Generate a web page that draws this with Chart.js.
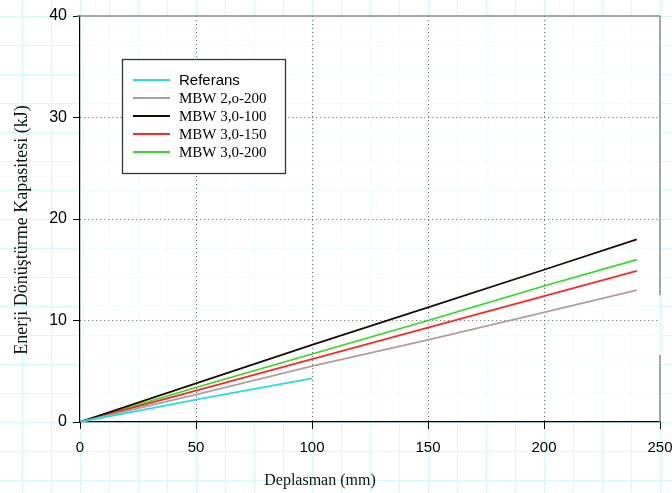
<!DOCTYPE html>
<html><head><meta charset="utf-8">
<script src="https://cdn.jsdelivr.net/npm/chart.js@4.4.0/dist/chart.umd.min.js"></script>
<style>
html,body{margin:0;padding:0;background:#fff;}
body{width:672px;height:493px;overflow:hidden;
background-image:linear-gradient(to right,#d2fafa 1px,transparent 1px),linear-gradient(to bottom,#d2fafa 1px,transparent 1px);
background-size:29px 29px;background-position:22px 16px;}
canvas{display:block}
</style></head>
<body><canvas id="c" width="672" height="493"></canvas>
<script>
// ---- data ----
const labels = ["Referans", "MBW 2,o-200", "MBW 3,0-100", "MBW 3,0-150", "MBW 3,0-200"];
const dispRef = [0, 50, 100];
const referans = [0, 2.2, 4.3];
const disp = [0, 50, 100, 150, 200, 240];
const mbw20_200 = [0, 2.7, 5.5, 8.1, 10.8, 13.0];
const mbw30_100 = [0, 3.8, 7.6, 11.3, 15.0, 18.0];
const mbw30_150 = [0, 3.1, 6.2, 9.3, 12.4, 14.9];
const mbw30_200 = [0, 3.4, 6.7, 10.0, 13.4, 16.0];
const xTicks = [0, 50, 100, 150, 200, 250];
const yTicks = [0, 10, 20, 30, 40];
const xTitle = "Deplasman (mm)";
const yTitle = "Enerji Dönüştürme Kapasitesi (kJ)";

const colors = ["#22dded", "#b39c9c", "#1a0a0a", "#ff2626", "#2fdc1f"];
const pts = (xs, ys) => xs.map((x, i) => ({x: x, y: ys[i]}));
const series = [pts(dispRef, referans), pts(disp, mbw20_200), pts(disp, mbw30_100), pts(disp, mbw30_150), pts(disp, mbw30_200)];

const SANS = '"Liberation Sans", Arial, sans-serif';
const SERIF = '"Liberation Serif", "Times New Roman", serif';

const decor = {
  id: 'decor',
  beforeDraw(chart) {
    const a = chart.chartArea, ctx = chart.ctx;
    ctx.save();
    ctx.fillStyle = 'rgba(255,255,255,0.65)';
    ctx.fillRect(a.left, a.top, a.right - a.left, a.bottom - a.top);
    ctx.restore();
  },
  afterDraw(chart) {
    const a = chart.chartArea, ctx = chart.ctx, ys = chart.scales.y;
    ctx.save();
    // top and right frame
    ctx.strokeStyle = '#8a8a8a';
    ctx.lineWidth = 1.5;
    ctx.beginPath();
    ctx.moveTo(a.left - 3, a.top); ctx.lineTo(a.right, a.top);
    ctx.moveTo(a.right, a.top); ctx.lineTo(a.right, ys.getPixelForValue(12.5));
    ctx.moveTo(a.right, ys.getPixelForValue(6.6)); ctx.lineTo(a.right, a.bottom);
    ctx.stroke();
    // legend
    const L = a.left + 42, T = a.top + 43, W = 163, H = 114;
    ctx.fillStyle = '#fff';
    ctx.fillRect(L, T, W, H);
    ctx.strokeStyle = '#333';
    ctx.lineWidth = 1.3;
    ctx.strokeRect(L + 0.5, T + 0.5, W, H);
    ctx.textBaseline = 'middle';
    ctx.textAlign = 'left';
    chart.data.datasets.forEach((ds, i) => {
      const y = T + 21 + i * 18;
      ctx.strokeStyle = ds.borderColor;
      ctx.lineWidth = 2;
      ctx.beginPath(); ctx.moveTo(L + 11, y); ctx.lineTo(L + 48, y); ctx.stroke();
      ctx.fillStyle = '#000';
      ctx.font = i === 0 ? '15px ' + SANS : '15px ' + SERIF;
      ctx.fillText(ds.label, L + 57, y + 1);
    });
    // axis titles
    ctx.fillStyle = '#111';
    ctx.textAlign = 'center';
    ctx.font = '16px ' + SERIF;
    ctx.fillText(xTitle, a.left + 240, a.bottom + 59);
    ctx.font = '18px ' + SERIF;
    ctx.translate(22, a.top + 214);
    ctx.rotate(-Math.PI / 2);
    ctx.fillText(yTitle, 0, 0);
    ctx.restore();
  }
};

new Chart(document.getElementById('c'), {
  type: 'line',
  data: {
    datasets: series.map((d, i) => ({
      label: labels[i], data: d, borderColor: colors[i], backgroundColor: colors[i],
      borderWidth: 1.8, pointRadius: 0, tension: 0, fill: false
    }))
  },
  options: {
    responsive: false, animation: false,
    layout: {padding: {top: 16, right: 12, left: 0, bottom: 0}},
    plugins: {legend: {display: false}, tooltip: {enabled: false}},
    scales: {
      x: {
        type: 'linear', min: 0, max: 250,
        afterBuildTicks: s => { s.ticks = xTicks.map(v => ({value: v})); },
        afterFit: s => { s.height = 71; s.paddingRight = 0; s.paddingLeft = 0; },
        ticks: {font: {family: SANS, size: 15}, color: '#000', padding: 10, maxRotation: 0},
        grid: {
          color: c => (c.tick && (c.tick.value === 0 || c.tick.value === 250)) ? 'rgba(0,0,0,0)' : '#666',
          tickColor: '#000', tickLength: 7, tickWidth: 1, tickBorderDash: [], lineWidth: 1
        },
        border: {display: true, color: '#000', width: 1.2, dash: [1, 3]}
      },
      y: {
        type: 'linear', min: 0, max: 40,
        afterBuildTicks: s => { s.ticks = yTicks.map(v => ({value: v})); },
        afterFit: s => { s.width = 80; s.paddingTop = 0; s.paddingBottom = 0; },
        ticks: {font: {family: SANS, size: 16}, color: '#000', padding: 6},
        grid: {
          color: c => (c.tick && (c.tick.value === 0 || c.tick.value === 40)) ? 'rgba(0,0,0,0)' : '#666',
          tickColor: '#000', tickLength: 7, tickWidth: 1, tickBorderDash: [], lineWidth: 1
        },
        border: {display: true, color: '#000', width: 1.2, dash: [1, 3]}
      }
    }
  },
  plugins: [decor]
});
</script>
</body></html>
